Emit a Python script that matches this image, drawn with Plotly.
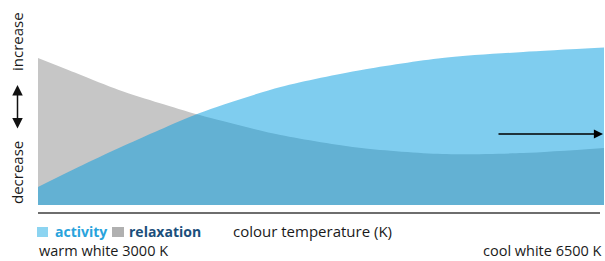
import plotly.graph_objects as go

# colour temperature (K)
temperature_k = [3000, 3250, 3500, 3750, 4000, 4500, 5000, 5500, 6000, 6500]
# relative level (arbitrary units)
activity = [18, 38, 57, 75, 92, 118, 135, 147, 153, 157.5]
relaxation = [147, 131, 115, 102, 90, 70, 57, 51, 52, 57]

W, H = 605, 261
L, R, T, B = 38, 1, 45, 56
pw, ph = W - L - R, H - T - B


def px(xp):
    return (xp - L) / pw


def py(yp):
    return (H - B - yp) / ph


FONT = "Open Sans, Noto Sans, sans-serif"
TXT = "#1a1a1a"

fig = go.Figure()
fig.add_trace(go.Scatter(
    x=temperature_k, y=relaxation, mode="lines", line=dict(width=0, shape="spline", smoothing=0.8),
    fill="tozeroy", fillcolor="#C6C6C6", hoverinfo="skip", showlegend=False, name="relaxation"))
fig.add_trace(go.Scatter(
    x=temperature_k, y=activity, mode="lines", line=dict(width=0, shape="spline", smoothing=0.8),
    fill="tozeroy", fillcolor="rgba(0,155,223,0.5)", hoverinfo="skip", showlegend=False, name="activity"))

shapes = [
    dict(type="line", xref="paper", yref="paper", x0=0, x1=px(600), y0=py(213), y1=py(213),
         line=dict(color="#6E6E6E", width=2)),
    dict(type="rect", xref="paper", yref="paper", x0=px(37), x1=px(48), y0=py(237), y1=py(227),
         fillcolor="#8CD4F1", line=dict(width=0)),
    dict(type="rect", xref="paper", yref="paper", x0=px(112), x1=px(124), y0=py(237), y1=py(227),
         fillcolor="#B0B0B0", line=dict(width=0)),
]

ann = [
    dict(text="<b>activity</b>", x=px(53), y=py(231), xanchor="left", yanchor="middle",
         font=dict(color="#29A3DC", size=14)),
    dict(text="<b>relaxation</b>", x=px(127), y=py(231), xanchor="left", yanchor="middle",
         font=dict(color="#1B4F7B", size=14)),
    dict(text="colour temperature (K)", x=px(231), y=py(231), xanchor="left", yanchor="middle",
         font=dict(color=TXT, size=15)),
    dict(text="warm white 3000 K", x=px(37), y=py(250.5), xanchor="left", yanchor="middle",
         font=dict(color=TXT, size=14.5)),
    dict(text="cool white 6500 K", x=px(604), y=py(250.5), xanchor="right", yanchor="middle",
         font=dict(color=TXT, size=14.5)),
    dict(text="increase", x=px(17), y=py(42), xanchor="center", yanchor="middle", textangle=-90,
         font=dict(color=TXT, size=15)),
    dict(text="decrease", x=px(17), y=py(173), xanchor="center", yanchor="middle", textangle=-90,
         font=dict(color=TXT, size=15)),
    # double arrow
    dict(text="", x=px(17.5), y=py(85), ax=0, ay=45,
         showarrow=True, arrowhead=2, startarrowhead=2, arrowside="end+start", arrowsize=1.4,
         arrowwidth=1.5, arrowcolor="#111111"),
    # direction arrow
    dict(text="", x=px(603), y=py(134), ax=-106, ay=0,
         showarrow=True, arrowhead=2, arrowsize=1.4, arrowwidth=1.3, arrowcolor="#000000"),
]
for a in ann:
    a.setdefault("xref", "paper")
    a.setdefault("yref", "paper")
    a.setdefault("showarrow", False)

fig.update_layout(
    width=W, height=H, margin=dict(l=L, r=R, t=T, b=B),
    paper_bgcolor="white", plot_bgcolor="white",
    font=dict(family=FONT),
    xaxis=dict(range=[3000, 6500], visible=False, fixedrange=True),
    yaxis=dict(range=[0, ph], visible=False, fixedrange=True),
    shapes=shapes, annotations=ann, showlegend=False,
)
fig.write_html("out.html", config={"displayModeBar": False},
               post_script="document.body.style.margin='0';document.body.style.overflow='hidden';")
